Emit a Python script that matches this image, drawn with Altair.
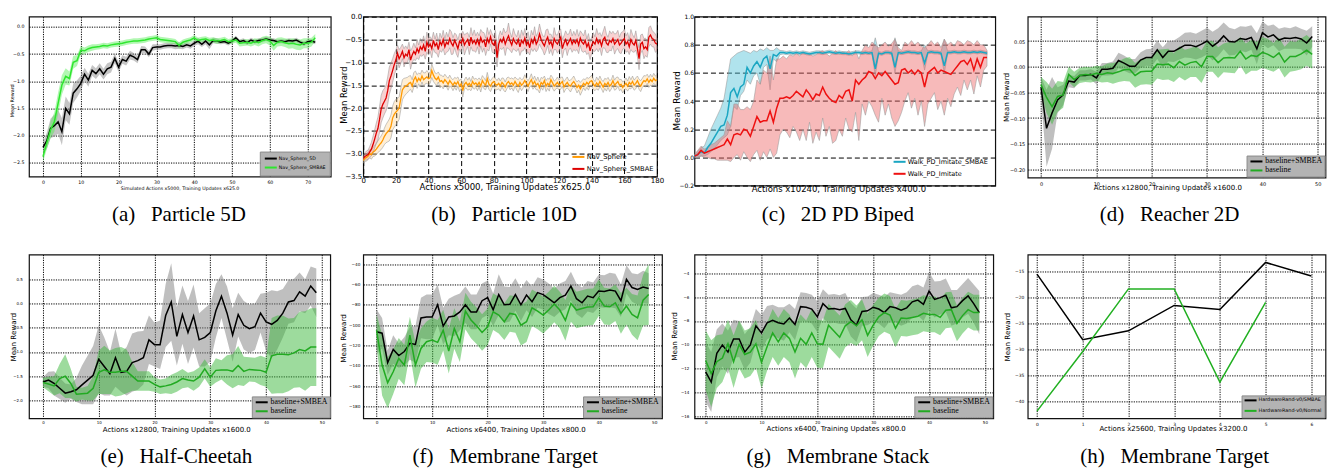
import altair as alt
import pandas as pd

SANS = "DejaVu Sans"
SERIF = "Liberation Serif"
DOT = [1.2, 1.2]
DASH = [5, 3]

# ---------------- (a) Particle 5D ----------------
A_X = list(range(73))
A_NAV5D = [-2.22,-2.10,-1.87,-1.82,-1.75,-1.93,-1.50,-1.60,-1.22,-1.14,
           -1.04,-0.87,-0.98,-0.80,-0.86,-0.77,-0.87,-0.77,-0.74,-0.58,
           -0.74,-0.60,-0.63,-0.52,-0.55,-0.60,-0.42,-0.42,-0.50,-0.38,
           -0.37,-0.37,-0.35,-0.34,-0.34,-0.35,-0.34,-0.36,-0.33,-0.35,
           -0.30,-0.26,-0.32,-0.26,-0.33,-0.25,-0.26,-0.28,-0.27,-0.30,
           -0.26,-0.20,-0.27,-0.25,-0.29,-0.24,-0.27,-0.25,-0.24,-0.22,
           -0.24,-0.25,-0.27,-0.26,-0.27,-0.25,-0.26,-0.24,-0.28,-0.31,
           -0.27,-0.26,-0.28]
A_NAV5D_SPREAD = [0.10,0.15,0.18,0.20,0.22,0.25,0.22,0.20,0.18,0.16,
                  0.14,0.12,0.12,0.10,0.10,0.10,0.10,0.10,0.10,0.09,
                  0.09,0.08,0.08,0.08,0.07,0.07,0.07,0.06,0.06,0.06,
                  0.05,0.05,0.05,0.05,0.05,0.06,0.06,0.05,0.05,0.05,
                  0.05,0.06,0.05,0.06,0.08,0.05,0.05,0.04,0.04,0.04,
                  0.04,0.04,0.04,0.04,0.04,0.04,0.04,0.04,0.04,0.04,
                  0.04,0.04,0.04,0.04,0.04,0.04,0.04,0.04,0.04,0.04,
                  0.04,0.04,0.04]
A_SMBAE = [-2.39,-2.14,-1.90,-1.75,-1.41,-1.07,-0.91,-0.95,-0.65,-0.62,
           -0.43,-0.44,-0.40,-0.38,-0.37,-0.36,-0.34,-0.35,-0.33,-0.32,
           -0.31,-0.30,-0.28,-0.27,-0.26,-0.26,-0.25,-0.24,-0.22,-0.21,
           -0.20,-0.23,-0.24,-0.25,-0.26,-0.27,-0.34,-0.28,-0.26,-0.24,
           -0.20,-0.25,-0.23,-0.22,-0.25,-0.24,-0.26,-0.25,-0.23,-0.27,
           -0.26,-0.24,-0.30,-0.29,-0.28,-0.30,-0.27,-0.29,-0.25,-0.23,
           -0.26,-0.34,-0.28,-0.27,-0.29,-0.31,-0.30,-0.32,-0.33,-0.30,
           -0.30,-0.28,-0.20]
A_SMBAE_SPREAD = [0.10,0.12,0.15,0.18,0.20,0.18,0.15,0.13,0.12,0.10,
                  0.08,0.06,0.06,0.06,0.05,0.05,0.05,0.05,0.05,0.05,
                  0.05,0.05,0.05,0.05,0.05,0.05,0.05,0.05,0.05,0.05,
                  0.05,0.05,0.05,0.05,0.05,0.05,0.06,0.05,0.05,0.05,
                  0.05,0.05,0.05,0.05,0.05,0.05,0.05,0.05,0.05,0.05,
                  0.05,0.05,0.06,0.06,0.06,0.06,0.06,0.07,0.07,0.07,
                  0.08,0.10,0.08,0.08,0.08,0.09,0.09,0.10,0.10,0.09,
                  0.09,0.08,0.07]
A_XTICKS = [0, 10, 20, 30, 40, 50, 60, 70]
A_YTICKS = [0.0, -0.5, -1.0, -1.5, -2.0, -2.5]

# ---------------- (b) Particle 10D ----------------
B_X = list(range(181))
B_SMBAE = [-3.10,-3.06,-3.04,-3.02,-2.96,-2.90,-2.80,-2.68,-2.55,-2.45,
           -2.25,-2.02,-1.92,-1.85,-1.78,-1.62,-1.40,-1.30,-1.18,-1.05,
           -0.95,-0.80,-0.92,-0.85,-0.76,-0.90,-0.82,-0.86,-0.72,-0.95,
           -0.84,-0.76,-0.82,-0.70,-0.78,-0.66,-0.72,-0.62,-0.76,-0.56,
           -0.66,-0.60,-0.70,-0.52,-0.64,-0.58,-0.72,-0.55,-0.62,-0.50,
           -0.66,-0.56,-0.60,-0.48,-0.58,-0.64,-0.52,-0.60,-0.70,-0.54,
           -0.58,-0.48,-0.62,-0.55,-0.50,-0.64,-0.45,-0.58,-0.52,-0.60,
           -0.50,-0.62,-0.46,-0.56,-0.52,-0.66,-0.48,-0.57,-0.44,-0.58,
           -0.62,-0.52,-0.90,-0.60,-0.50,-0.56,-0.46,-0.60,-0.50,-0.42,
           -0.54,-0.62,-0.48,-0.56,-0.60,-0.50,-0.66,-0.52,-0.58,-0.47,
           -0.62,-0.55,-0.68,-0.50,-0.58,-0.46,-0.60,-0.53,-0.38,-0.50,
           -0.58,-0.64,-0.52,-0.45,-0.60,-0.55,-0.66,-0.48,-0.56,-0.60,
           -0.52,-0.45,-0.70,-0.58,-0.50,-0.62,-0.55,-0.48,-0.60,-0.52,
           -0.58,-0.50,-0.62,-0.47,-0.56,-0.60,-0.52,-0.66,-0.58,-0.75,
           -0.62,-0.55,-0.60,-0.48,-0.58,-0.52,-0.64,-0.50,-0.45,-0.58,
           -0.62,-0.52,-0.56,-0.48,-0.60,-0.55,-0.50,-0.62,-0.58,-0.52,
           -0.48,-0.60,-0.55,-0.66,-0.50,-0.58,-0.62,-0.52,-0.70,-0.92,
           -0.60,-0.56,-0.70,-0.66,-0.72,-0.45,-0.40,-0.48,-0.50,-0.58,-0.60]
B_SMBAE_SPREAD = [0.06,0.08,0.10,0.10,0.12,0.15,0.18,0.20,0.22,0.25,
                  0.28,0.30,0.30,0.28,0.28,0.30,0.30,0.28,0.26,0.24,
                  0.22,0.18,0.20,0.18,0.16,0.20,0.18,0.16,0.16,0.20,
                  0.16,0.18,0.14,0.20,0.16,0.18,0.15,0.20,0.17,0.22,
                  0.18,0.16,0.20,0.18,0.15,0.22,0.17,0.19,0.16,0.20,
                  0.18,0.22,0.16,0.20,0.25,0.18,0.16,0.21,0.19,0.17,
                  0.20,0.16,0.22,0.18,0.15,0.19,0.21,0.17,0.23,0.18,
                  0.16,0.20,0.18,0.22,0.17,0.19,0.24,0.18,0.16,0.20,
                  0.18,0.22,0.20,0.17,0.19,0.16,0.21,0.25,0.18,0.28,
                  0.20,0.17,0.22,0.18,0.16,0.20,0.19,0.23,0.17,0.21,
                  0.18,0.22,0.16,0.20,0.18,0.24,0.17,0.19,0.22,0.18,
                  0.16,0.20,0.23,0.18,0.21,0.17,0.19,0.24,0.16,0.20,
                  0.22,0.18,0.20,0.16,0.19,0.23,0.17,0.21,0.18,0.20,
                  0.17,0.22,0.19,0.16,0.20,0.18,0.23,0.17,0.21,0.19,
                  0.18,0.20,0.16,0.22,0.19,0.17,0.21,0.18,0.24,0.20,
                  0.17,0.21,0.19,0.16,0.22,0.18,0.20,0.17,0.23,0.19,
                  0.21,0.18,0.20,0.17,0.22,0.19,0.16,0.21,0.18,0.24,
                  0.20,0.18,0.22,0.19,0.17,0.21,0.20,0.18,0.16,0.20,0.15]
B_NAV = [-3.15,-3.10,-3.08,-3.05,-3.00,-3.02,-2.96,-2.94,-2.90,-2.85,
         -2.80,-2.76,-2.70,-2.62,-2.56,-2.52,-2.48,-2.40,-2.22,-2.14,
         -2.09,-2.05,-2.00,-1.80,-1.60,-1.55,-1.52,-1.50,-1.46,-1.44,
         -1.52,-1.38,-1.32,-1.42,-1.35,-1.40,-1.30,-1.38,-1.35,-1.32,
         -1.36,-1.34,-1.18,-1.28,-1.35,-1.38,-1.32,-1.42,-1.40,-1.45,
         -1.38,-1.42,-1.48,-1.40,-1.45,-1.50,-1.44,-1.48,-1.42,-1.52,
         -1.47,-1.62,-1.48,-1.44,-1.50,-1.46,-1.52,-1.42,-1.48,-1.45,
         -1.50,-1.44,-1.52,-1.40,-1.46,-1.50,-1.36,-1.48,-1.52,-1.45,
         -1.42,-1.48,-1.50,-1.46,-1.52,-1.44,-1.48,-1.54,-1.46,-1.42,
         -1.48,-1.45,-1.50,-1.42,-1.48,-1.52,-1.44,-1.50,-1.46,-1.40,
         -1.46,-1.52,-1.44,-1.38,-1.48,-1.42,-1.50,-1.46,-1.55,-1.44,
         -1.48,-1.40,-1.52,-1.46,-1.50,-1.38,-1.45,-1.52,-1.48,-1.44,
         -1.50,-1.46,-1.42,-1.54,-1.48,-1.44,-1.50,-1.52,-1.46,-1.42,
         -1.48,-1.55,-1.50,-1.58,-1.52,-1.46,-1.50,-1.44,-1.48,-1.42,
         -1.40,-1.48,-1.52,-1.45,-1.50,-1.42,-1.48,-1.54,-1.46,-1.50,
         -1.44,-1.52,-1.48,-1.40,-1.50,-1.46,-1.42,-1.50,-1.48,-1.55,
         -1.50,-1.46,-1.52,-1.44,-1.48,-1.42,-1.50,-1.46,-1.40,-1.48,
         -1.52,-1.45,-1.40,-1.42,-1.36,-1.44,-1.38,-1.42,-1.35,-1.40,-1.38]
B_NAV_SPREAD = [0.06,0.07,0.08,0.08,0.09,0.10,0.10,0.11,0.12,0.13,
                0.14,0.15,0.16,0.18,0.20,0.22,0.24,0.25,0.26,0.28,
                0.28,0.26,0.25,0.24,0.22,0.20,0.18,0.17,0.16,0.15,
                0.14,0.16,0.13,0.15,0.12,0.14,0.13,0.15,0.12,0.14,
                0.13,0.12,0.15,0.14,0.12,0.13,0.11,0.14,0.12,0.13,
                0.12,0.11,0.13,0.12,0.10,0.12,0.11,0.13,0.10,0.12,
                0.11,0.14,0.10,0.12,0.11,0.13,0.10,0.12,0.11,0.10,
                0.12,0.10,0.13,0.11,0.12,0.10,0.14,0.11,0.12,0.10,
                0.11,0.13,0.10,0.12,0.11,0.10,0.13,0.11,0.12,0.10,
                0.12,0.11,0.13,0.10,0.12,0.14,0.11,0.12,0.10,0.13,
                0.11,0.12,0.10,0.13,0.11,0.12,0.10,0.14,0.12,0.11,
                0.13,0.10,0.12,0.11,0.13,0.10,0.12,0.11,0.10,0.12,
                0.11,0.13,0.10,0.12,0.11,0.12,0.10,0.13,0.11,0.12,
                0.10,0.12,0.11,0.14,0.12,0.10,0.12,0.11,0.13,0.10,
                0.12,0.11,0.10,0.13,0.11,0.12,0.10,0.12,0.11,0.13,
                0.11,0.12,0.10,0.12,0.11,0.13,0.10,0.12,0.11,0.12,
                0.10,0.12,0.11,0.13,0.10,0.12,0.11,0.12,0.10,0.11,
                0.12,0.10,0.11,0.12,0.10,0.11,0.12,0.10,0.11,0.10,0.11]
B_XTICKS = [0, 20, 40, 60, 80, 100, 120, 140, 160, 180]
B_YTICKS = [0.0, -0.5, -1.0, -1.5, -2.0, -2.5, -3.0, -3.5]

# ---------------- (c) 2D PD Biped ----------------
C_X = list(range(90))
C_SMBAE = [0.01,0.02,0.04,0.03,0.07,0.10,0.14,0.18,0.22,0.23,
           0.30,0.46,0.49,0.43,0.50,0.52,0.64,0.60,0.65,0.68,
           0.64,0.70,0.72,0.63,0.73,0.72,0.745,0.745,0.74,0.745,
           0.74,0.745,0.74,0.745,0.74,0.735,0.74,0.745,0.745,0.74,
           0.745,0.75,0.745,0.74,0.745,0.74,0.74,0.735,0.74,0.745,
           0.745,0.74,0.745,0.74,0.745,0.63,0.74,0.735,0.745,0.745,
           0.74,0.64,0.745,0.74,0.745,0.75,0.745,0.745,0.74,0.745,
           0.67,0.745,0.75,0.745,0.745,0.74,0.65,0.745,0.745,0.75,
           0.745,0.745,0.75,0.745,0.745,0.75,0.745,0.75,0.745,0.74]
C_SMBAE_LO = [0.00,0.00,0.01,0.01,0.02,0.04,0.06,0.09,0.12,0.14,
              0.16,0.22,0.36,0.34,0.44,0.47,0.55,0.52,0.58,0.60,
              0.52,0.64,0.66,0.48,0.70,0.68,0.73,0.735,0.73,0.735,
              0.73,0.735,0.73,0.735,0.73,0.725,0.73,0.735,0.735,0.73,
              0.735,0.74,0.735,0.73,0.735,0.73,0.73,0.725,0.73,0.735,
              0.735,0.73,0.735,0.73,0.735,0.58,0.73,0.725,0.735,0.735,
              0.73,0.60,0.735,0.73,0.735,0.74,0.735,0.735,0.73,0.735,
              0.62,0.735,0.74,0.735,0.735,0.73,0.60,0.735,0.735,0.74,
              0.735,0.735,0.74,0.735,0.735,0.74,0.735,0.74,0.735,0.73]
C_SMBAE_HI = [0.02,0.04,0.07,0.08,0.14,0.20,0.25,0.30,0.35,0.42,
              0.56,0.70,0.72,0.74,0.75,0.76,0.75,0.74,0.76,0.75,
              0.77,0.76,0.78,0.76,0.76,0.78,0.76,0.758,0.752,0.758,
              0.752,0.757,0.752,0.757,0.752,0.747,0.752,0.757,0.757,0.752,
              0.757,0.762,0.757,0.752,0.757,0.752,0.752,0.747,0.752,0.757,
              0.757,0.752,0.757,0.752,0.757,0.85,0.752,0.747,0.757,0.757,
              0.752,0.85,0.757,0.752,0.757,0.762,0.757,0.757,0.752,0.757,
              0.80,0.757,0.762,0.757,0.757,0.752,0.84,0.757,0.757,0.762,
              0.757,0.757,0.762,0.757,0.757,0.762,0.757,0.762,0.757,0.752]
C_IMIT = [0.01,0.02,0.05,0.03,0.04,0.05,0.06,0.07,0.08,0.09,
          0.13,0.09,0.16,0.17,0.16,0.20,0.19,0.15,0.22,0.29,
          0.25,0.26,0.26,0.33,0.25,0.35,0.42,0.42,0.43,0.42,
          0.44,0.47,0.45,0.43,0.48,0.45,0.41,0.45,0.44,0.50,
          0.45,0.42,0.40,0.39,0.44,0.42,0.47,0.48,0.40,0.55,
          0.52,0.55,0.57,0.61,0.60,0.56,0.60,0.58,0.61,0.58,
          0.55,0.52,0.53,0.62,0.63,0.60,0.62,0.59,0.62,0.60,
          0.50,0.60,0.62,0.64,0.60,0.62,0.61,0.60,0.59,0.62,
          0.65,0.68,0.69,0.66,0.70,0.62,0.70,0.64,0.71,0.71]
C_IMIT_LO = [0.00,0.00,0.01,0.00,0.00,-0.01,-0.01,-0.02,-0.02,-0.02,
             -0.02,-0.03,0.00,0.02,-0.02,0.04,0.00,-0.03,0.02,0.05,
             -0.02,0.04,0.00,0.06,0.00,0.03,0.16,0.20,0.18,0.14,
             0.22,0.18,0.12,0.20,0.12,0.25,0.10,0.18,0.12,0.28,
             0.15,0.22,0.10,0.12,0.20,0.15,0.28,0.20,0.18,0.32,
             0.12,0.38,0.30,0.40,0.36,0.30,0.25,0.42,0.30,0.38,
             0.28,0.22,0.26,0.32,0.40,0.46,0.35,0.42,0.30,0.40,
             0.22,0.38,0.42,0.46,0.34,0.40,0.30,0.42,0.36,0.45,
             0.50,0.44,0.55,0.48,0.55,0.45,0.58,0.50,0.62,0.65]
C_IMIT_HI = [0.02,0.05,0.08,0.06,0.07,0.09,0.10,0.12,0.14,0.16,
             0.26,0.22,0.38,0.38,0.34,0.34,0.36,0.34,0.40,0.55,
             0.52,0.62,0.60,0.72,0.55,0.70,0.70,0.72,0.70,0.73,
             0.72,0.74,0.72,0.75,0.73,0.74,0.72,0.73,0.75,0.76,
             0.74,0.72,0.74,0.76,0.73,0.75,0.74,0.76,0.72,0.76,
             0.70,0.76,0.80,0.78,0.82,0.80,0.78,0.80,0.82,0.79,
             0.81,0.84,0.78,0.76,0.82,0.80,0.83,0.80,0.82,0.79,
             0.78,0.80,0.83,0.80,0.82,0.78,0.84,0.80,0.82,0.79,
             0.83,0.82,0.80,0.83,0.82,0.80,0.83,0.80,0.80,0.76]
C_YTICKS = [1.0, 0.8, 0.6, 0.4, 0.2, 0.0, -0.2]

# ---------------- (d) Reacher 2D ----------------
D_X = list(range(50))
D_SMBEA = [-0.040,-0.120,-0.090,-0.065,-0.055,-0.028,-0.030,-0.017,-0.017,-0.015,
           -0.022,-0.005,-0.005,-0.003,0.012,0.007,0.001,0.001,0.013,0.018,
           0.018,0.033,0.018,0.030,0.030,0.036,0.042,0.042,0.039,0.044,
           0.050,0.040,0.048,0.060,0.049,0.048,0.055,0.053,0.057,0.035,
           0.066,0.058,0.062,0.052,0.056,0.055,0.057,0.054,0.046,0.059]
D_SMBEA_SPREAD = [0.020,0.075,0.070,0.025,0.020,0.012,0.012,0.010,0.010,0.010,
                  0.012,0.012,0.012,0.013,0.015,0.015,0.014,0.014,0.015,0.016,
                  0.017,0.018,0.020,0.020,0.021,0.022,0.024,0.025,0.025,0.026,
                  0.026,0.028,0.027,0.026,0.027,0.025,0.024,0.025,0.024,0.030,
                  0.022,0.022,0.020,0.022,0.021,0.020,0.022,0.020,0.024,0.020]
D_BASE = [-0.035,-0.060,-0.078,-0.058,-0.055,-0.015,-0.025,-0.017,-0.015,-0.016,
          -0.013,-0.015,-0.012,-0.013,-0.010,-0.006,-0.005,-0.017,-0.010,-0.009,
          -0.009,0.005,0.004,0.005,-0.002,0.010,0.003,0.008,0.010,0.000,
          0.020,0.020,0.008,0.017,0.018,0.017,0.030,0.015,0.022,0.020,
          0.028,0.024,0.018,0.027,0.009,0.020,0.020,0.025,0.032,0.024]
D_BASE_SPREAD = [0.015,0.030,0.035,0.030,0.025,0.015,0.015,0.015,0.015,0.015,
                 0.015,0.016,0.018,0.020,0.020,0.022,0.024,0.024,0.025,0.025,
                 0.026,0.028,0.030,0.030,0.028,0.030,0.030,0.028,0.030,0.032,
                 0.030,0.030,0.030,0.028,0.030,0.030,0.028,0.030,0.030,0.028,
                 0.030,0.030,0.028,0.030,0.030,0.030,0.028,0.030,0.030,0.028]
D_XTICKS = [0, 10, 20, 30, 40, 50]
D_YTICKS = [0.05, 0.0, -0.05, -0.10, -0.15, -0.20]

# ---------------- (e) Half-Cheetah ----------------
E_X = list(range(50))
E_SMBEA = [-1.62,-1.58,-1.65,-1.75,-1.85,-1.82,-1.78,-1.68,-1.58,-1.48,
           -1.15,-1.30,-1.45,-1.12,-1.42,-1.40,-1.22,-1.18,-1.12,-0.75,
           -0.85,-0.85,-0.25,0.03,-0.68,-0.23,-0.60,-0.26,-0.75,-0.70,
           -0.60,-0.15,0.15,-0.20,-0.65,-0.23,-0.45,-0.52,-0.48,-0.20,
           -0.38,-0.43,-0.35,-0.20,0.03,0.06,0.24,0.15,0.36,0.22]
E_SMBEA_SPREAD = [0.10,0.17,0.25,0.22,0.20,0.15,0.25,0.40,0.50,0.60,
                  0.70,0.60,0.45,0.60,0.40,0.50,0.60,0.60,0.55,0.50,
                  0.45,0.50,0.65,0.80,0.60,0.60,0.65,0.65,0.55,0.60,
                  0.60,0.55,0.45,0.55,0.55,0.45,0.50,0.50,0.48,0.40,
                  0.60,0.70,0.60,0.50,0.45,0.45,0.40,0.35,0.40,0.50]
E_BASE = [-1.63,-1.66,-1.70,-1.55,-1.50,-1.65,-1.87,-1.86,-1.85,-1.75,
          -1.42,-1.37,-1.42,-1.42,-1.40,-1.40,-1.50,-1.60,-1.60,-1.60,
          -1.67,-1.72,-1.70,-1.67,-1.62,-1.55,-1.58,-1.60,-1.52,-1.35,
          -1.52,-1.38,-1.37,-1.37,-1.40,-1.28,-1.40,-1.36,-1.37,-1.38,
          -1.42,-1.08,-1.05,-1.05,-1.06,-1.02,-0.95,-0.98,-0.90,-0.90]
E_BASE_SPREAD = [0.10,0.15,0.20,0.30,0.45,0.30,0.15,0.12,0.15,0.25,
                 0.45,0.50,0.45,0.50,0.50,0.45,0.30,0.20,0.20,0.20,
                 0.15,0.15,0.15,0.20,0.20,0.20,0.15,0.20,0.20,0.20,
                 0.20,0.25,0.20,0.30,0.35,0.40,0.30,0.25,0.25,0.30,
                 0.30,0.78,0.80,0.80,0.75,0.72,0.78,0.82,0.80,0.80]
E_YTICKS = [0.5, 0.0, -0.5, -1.0, -1.5, -2.0]

# ---------------- (f) Membrane Target ----------------
F_X = list(range(50))
F_SMBEA = [-106.6,-108,-137,-124,-130,-126,-118,-119,-93,-92,
           -92,-80,-101,-92,-91,-87,-80,-87,-87,-76,
           -73,-85,-70,-80,-79.5,-70,-80,-70.5,-77,-68,
           -70,-74,-78,-73,-70.5,-61.6,-74,-78,-71.5,-73,
           -66.5,-67,-65.5,-66.5,-76,-55,-63,-65,-62.5,-64]
F_SMBEA_SPREAD = [22,15,12,14,12,14,16,18,20,22,
                  22,20,18,18,20,18,18,17,17,17,
                  17,16,20,18,17,16,16,15,15,15,
                  15,15,14,14,14,14,15,15,15,15,
                  16,16,17,17,16,14,14,15,16,15]
F_BASE = [-104.9,-139.3,-156.7,-145.9,-132.8,-139.3,-109.8,-139.3,-123.0,-116.4,
          -114.8,-117.0,-105.0,-125.6,-103.3,-116.4,-86.2,-95.0,-100.7,-107.2,
          -101.6,-86.9,-90.2,-96.7,-88.5,-89.5,-100.0,-96.7,-83.0,-86.2,
          -90.2,-85.2,-79.3,-85.2,-95.4,-78.7,-85.2,-83.6,-82.3,-82.0,
          -73.1,-81.3,-82.0,-78.0,-88.5,-81.3,-89.5,-92.8,-75.4,-69.8]
F_BASE_SPREAD = [15,30,25,22,20,20,18,22,20,20,
                 22,22,20,22,20,20,18,18,18,18,
                 18,18,18,18,18,18,20,20,18,18,
                 18,18,18,18,20,18,18,18,18,18,
                 18,18,18,18,20,18,20,22,25,30]
F_YTICKS = [-40, -60, -80, -100, -120, -140, -160, -180]

# ---------------- (g) Membrane Stack ----------------
G_X = list(range(50))
G_SMBEA = [-12.25,-13.1,-10.7,-10.0,-10.6,-9.5,-9.5,-10.6,-10.0,-8.4,
           -9.0,-8.15,-7.95,-8.15,-8.25,-7.75,-8.3,-6.8,-6.85,-7.0,
           -7.65,-6.55,-7.0,-6.95,-7.05,-6.95,-7.9,-8.35,-7.2,-7.15,
           -6.85,-7.0,-7.3,-6.8,-6.9,-7.1,-6.9,-6.4,-6.25,-6.6,
           -5.5,-6.2,-6.05,-5.85,-6.9,-6.8,-6.3,-5.9,-6.55,-7.3]
G_SMBEA_SPREAD = [2.5,2.5,2.0,1.8,1.8,1.6,1.5,1.5,1.5,1.4,
                  1.5,1.4,1.3,1.3,1.4,1.2,1.3,1.2,1.2,1.2,
                  1.3,1.2,1.2,1.2,1.2,1.3,1.4,1.4,1.2,1.2,
                  1.2,1.2,1.3,1.2,1.2,1.3,1.3,1.3,1.3,1.4,
                  1.6,1.5,1.4,1.4,1.5,1.4,1.4,1.5,1.6,1.8]
G_BASE = [-11.3,-12.4,-11.4,-11.1,-9.9,-11.4,-9.95,-10.8,-10.6,-9.9,
          -11.45,-10.15,-9.0,-9.75,-9.0,-9.45,-10.6,-9.45,-9.95,-9.0,
          -9.9,-9.95,-8.35,-8.85,-9.35,-8.4,-8.05,-8.4,-7.9,-9.2,
          -8.35,-7.65,-7.3,-7.5,-8.6,-7.75,-7.8,-7.7,-7.6,-7.35,
          -7.45,-7.45,-7.7,-7.1,-7.05,-8.2,-7.55,-7.05,-7.3,-7.3]
G_BASE_SPREAD = [2.5,2.8,2.2,2.0,2.0,2.2,2.0,2.0,2.0,2.0,
                 2.2,2.0,2.0,2.0,2.0,2.0,2.2,2.0,2.0,2.0,
                 2.0,2.0,1.8,1.8,1.8,1.8,1.8,1.7,1.7,1.8,
                 1.7,1.6,1.6,1.6,1.6,1.5,1.5,1.5,1.5,1.5,
                 1.5,1.5,1.5,1.5,1.5,1.5,1.5,1.5,1.5,1.5]
G_YTICKS = [-4, -6, -8, -10, -12, -14, -16]

# ---------------- (h) Membrane Target (hardware) ----------------
H_X_SMBAE = [0, 1, 2, 3, 4, 5, 6]
H_SMBAE = [-15.45, -28.1, -26.4, -21.5, -22.3, -13.2, -15.8]
H_X_NORMAL = [0, 1, 2, 3, 4, 5]
H_NORMAL = [-41.9, -30.4, -18.3, -18.3, -36.3, -20.9]
H_XTICKS = [0, 1, 2, 3, 4, 5, 6]
H_YTICKS = [-15, -20, -25, -30, -35, -40]

GAP = "\u00a0\u00a0\u00a0"
CAPTIONS = ["(a)" + GAP + "Particle 5D", "(b)" + GAP + "Particle 10D", "(c)" + GAP + "2D PD Biped",
            "(d)" + GAP + "Reacher 2D", "(e)" + GAP + "Half-Cheetah", "(f)" + GAP + "Membrane Target",
            "(g)" + GAP + "Membrane Stack", "(h)" + GAP + "Membrane Target"]


def S(name, x, y, color, band=None, spread=None, lo=None, hi=None):
    return dict(name=name, x=x, y=y, color=color, band=band, spread=spread, lo=lo, hi=hi)


GRAY_BAND = "#7f7f7f"
GREEN = "#22aa22"
GREEN_BAND = "#3cb83c"
SERIF_LEG = dict(font=SERIF, fs=7.8, fill="#b3b3b3", stroke="#8c8c8c", pad=2, row=0, off=1)

PANELS = [
    dict(w=302, h=160, xdom=[-3.7, 76.1], ydom=[-2.757, 0.19], xticks=A_XTICKS, yticks=A_YTICKS,
         xfmt="d", yfmt=".1f", dash=DOT, xgrid=True, xlabels=True, lfs=4.7, xlp=3, ylp=5,
         xt="Simulated Actions x5000, Training Updates x625.0", yt="Mean Reward", xtfs=4.7, ytfs=4.9,
         xtx=150.7, xty=12.4, ytx=-16.5, yty=83.7, bop=0.45, bstroke=None, lw=1.5,
         series=[S("Nav_Sphere_5D", A_X, A_NAV5D, "#000000", GRAY_BAND, spread=A_NAV5D_SPREAD),
                 S("Nav_Sphere_SMBAE", A_X, A_SMBAE, "#2ee62e", "#55ee55", spread=A_SMBAE_SPREAD)],
         leg=dict(font=SANS, fs=4.7, fill="#b3b3b3", stroke="#8c8c8c", pad=4, row=1, off=1),
         capx=150, capy=198),
    dict(w=294, h=160, xdom=[0, 180], ydom=[-3.5, 0.0], xticks=B_XTICKS, yticks=B_YTICKS,
         xfmt="d", yfmt=".1f", dash=DASH, xgrid=True, xlabels=True, lfs=7, xlp=0, ylp=1.6,
         xt="Actions x5000, Training Updates x625.0", yt="Mean Reward", xtfs=8.6, ytfs=8.5,
         xtx=141.4, xty=10.4, ytx=-19.3, yty=78, bop=0.3, bstroke="#9a9a9a", lw=1.3,
         series=[S("Nav_Sphere", B_X, B_NAV, "#ff9900", "#ffc870", spread=B_NAV_SPREAD),
                 S("Nav_Sphere_SMBAE", B_X, B_SMBAE, "#dd0000", "#e86a6a", spread=B_SMBAE_SPREAD)],
         leg=dict(font=SANS, fs=6.7, fill=None, stroke=None, pad=0, row=3, off=3),
         capx=141, capy=198),
    dict(w=301, h=169, xdom=[0, 91.5], ydom=[-0.2, 1.0], xticks=[0], yticks=C_YTICKS,
         xfmt="d", yfmt=".1f", dash=DASH, xgrid=False, xlabels=False, lfs=6, xlp=0, ylp=1,
         xt="Actions x10240, Training Updates x400.0", yt="Mean Reward", xtfs=8.5, ytfs=8.8,
         xtx=144, xty=3.3, ytx=-18.3, yty=83.7, bop=0.45, bstroke="#9a9a9a", lw=1.5,
         series=[S("Walk_PD_Imitate_SMBAE", C_X, C_SMBAE, "#1ba6c2", "#4fc0d8", lo=C_SMBAE_LO, hi=C_SMBAE_HI),
                 S("Walk_PD_Imitate", C_X, C_IMIT, "#ee1111", "#ee6666", lo=C_IMIT_LO, hi=C_IMIT_HI)],
         leg=dict(font=SANS, fs=6.5, fill=None, stroke=None, pad=0, row=3, off=7),
         capx=143.5, capy=198),
    dict(w=298, h=161, xdom=[-2.4, 51.4], ydom=[-0.216, 0.0975], xticks=D_XTICKS, yticks=D_YTICKS,
         xfmt="d", yfmt=".2f", dash=DOT, xgrid=True, xlabels=True, lfs=5, xlp=3.5, ylp=3,
         xt="Actions x12800, Training Updates x1600.0", yt="Mean Reward", xtfs=7, ytfs=7.3,
         xtx=139.7, xty=10, ytx=-21, yty=80.3, bop=0.5, bstroke=None, lw=1.5,
         series=[S("baseline+SMBEA", D_X, D_SMBEA, "#000000", GRAY_BAND, spread=D_SMBEA_SPREAD),
                 S("baseline", D_X, D_BASE, GREEN, GREEN_BAND, spread=D_BASE_SPREAD)],
         leg=SERIF_LEG, capx=142, capy=198),
    dict(w=301.5, h=164, xdom=[-2.5, 51.5], ydom=[-2.37, 1.01], xticks=D_XTICKS, yticks=E_YTICKS,
         xfmt="d", yfmt=".1f", dash=DOT, xgrid=True, xlabels=True, lfs=4, xlp=2.5, ylp=6.6,
         xt="Actions x12800, Training Updates x1600.0", yt="Mean Reward", xtfs=7, ytfs=7.2,
         xtx=147.4, xty=10.7, ytx=-15.5, yty=82.3, bop=0.5, bstroke=None, lw=1.5,
         series=[S("baseline+SMBEA", E_X, E_SMBEA, "#000000", GRAY_BAND, spread=E_SMBEA_SPREAD),
                 S("baseline", E_X, E_BASE, GREEN, GREEN_BAND, spread=E_BASE_SPREAD)],
         leg=SERIF_LEG, capx=147.5, capy=203),
    dict(w=299, h=164, xdom=[-2.4, 51.4], ydom=[-191.8, -30.5], xticks=D_XTICKS, yticks=F_YTICKS,
         xfmt="d", yfmt="d", dash=DOT, xgrid=True, xlabels=True, lfs=4.2, xlp=2, ylp=3.3,
         xt="Actions x6400, Training Updates x800.0", yt="Mean Reward", xtfs=7, ytfs=7.2,
         xtx=152.5, xty=11, ytx=-20, yty=83.5, bop=0.5, bstroke=None, lw=1.5,
         series=[S("baseline+SMBEA", F_X, F_SMBEA, "#000000", GRAY_BAND, spread=F_SMBEA_SPREAD),
                 S("baseline", F_X, F_BASE, GREEN, GREEN_BAND, spread=F_BASE_SPREAD)],
         leg=SERIF_LEG, capx=142, capy=203),
    dict(w=299, h=164, xdom=[-2.0, 51.5], ydom=[-16.14, -2.44], xticks=D_XTICKS, yticks=G_YTICKS,
         xfmt="d", yfmt="d", dash=DOT, xgrid=True, xlabels=True, lfs=4, xlp=2, ylp=5.6,
         xt="Actions x6400, Training Updates x800.0", yt="Mean Reward", xtfs=7, ytfs=7.2,
         xtx=141.3, xty=10, ytx=-19.5, yty=81.5, bop=0.5, bstroke=None, lw=1.5,
         series=[S("baseline+SMBEA", G_X, G_SMBEA, "#000000", GRAY_BAND, spread=G_SMBEA_SPREAD),
                 S("baseline", G_X, G_BASE, GREEN, GREEN_BAND, spread=G_BASE_SPREAD)],
         leg=SERIF_LEG, capx=143.5, capy=203),
    dict(w=298, h=164, xdom=[-0.203, 6.31], ydom=[-43.3, -11.66], xticks=H_XTICKS, yticks=H_YTICKS,
         xfmt="d", yfmt="d", dash=DOT, xgrid=True, xlabels=True, lfs=4.4, xlp=4, ylp=4,
         xt="Actions x25600, Training Updates x3200.0", yt="Mean Reward", xtfs=7, ytfs=7.2,
         xtx=145.3, xty=10.3, ytx=-20.7, yty=82.3, bop=0.5, bstroke=None, lw=1.5,
         series=[S("HardwareRand-v0/SMBAE", H_X_SMBAE, H_SMBAE, "#000000"),
                 S("HardwareRand-v0/Normal", H_X_NORMAL, H_NORMAL, "#22b022")],
         leg=dict(font=SANS, fs=4.9, fill="#b3b3b3", stroke="#8c8c8c", pad=2, row=2.5, off=1),
         capx=147, capy=203),
]


def make_panel(k, p, caption):
    xs = alt.Scale(domain=p["xdom"], nice=False, zero=False)
    ys = alt.Scale(domain=p["ydom"], nice=False, zero=False)
    common = dict(domain=False, ticks=False, gridColor="#000000", gridOpacity=1.0, gridWidth=1.0,
                  gridDash=p["dash"], labelFont=SANS, labelColor="#000000", labelFontSize=p["lfs"],
                  labelFlush=False, labelOverlap=False, titleFont=SANS, titleColor="#000000",
                  titleFontWeight="normal", titleBaseline="middle", titleAlign="center")
    xa = alt.Axis(values=p["xticks"], format=p["xfmt"], labels=p["xlabels"], grid=p["xgrid"],
                  labelPadding=p["xlp"], title=p["xt"], titleFontSize=p["xtfs"],
                  titleX=p["xtx"], titleY=p["xty"], **common)
    ya = alt.Axis(values=p["yticks"], format=p["yfmt"], grid=True, labelPadding=p["ylp"],
                  title=p["yt"], titleFontSize=p["ytfs"], titleX=p["ytx"], titleY=p["yty"],
                  titleAngle=270, **common)
    sfield = "series%d" % k
    layers = []
    for s in p["series"]:
        if s["band"] is None:
            continue
        if s["spread"] is not None:
            lo = [v - d for v, d in zip(s["y"], s["spread"])]
            hi = [v + d for v, d in zip(s["y"], s["spread"])]
        else:
            lo, hi = s["lo"], s["hi"]
        n = min(len(s["x"]), len(lo), len(hi))
        bdf = pd.DataFrame({"x": s["x"][:n], "lo": lo[:n], "hi": hi[:n]})
        mk = dict(fill=s["band"], fillOpacity=p["bop"], clip=True)
        if p["bstroke"]:
            mk.update(stroke=p["bstroke"], strokeWidth=0.7, strokeOpacity=0.8)
        layers.append(alt.Chart(bdf).mark_area(**mk).encode(
            x=alt.X("x:Q", scale=xs, axis=xa),
            y=alt.Y("lo:Q", scale=ys, axis=ya),
            y2="hi:Q"))
    rows = []
    for s in p["series"]:
        for x, y in zip(s["x"], s["y"]):
            rows.append({"x": x, "y": y, sfield: s["name"]})
    ldf = pd.DataFrame(rows)
    names = [s["name"] for s in p["series"]]
    colors = [s["color"] for s in p["series"]]
    lg = p["leg"]
    legkw = dict(title=None, orient="bottom-right", offset=lg["off"], padding=lg["pad"],
                 labelFont=lg["font"], labelFontSize=lg["fs"], labelColor="#000000",
                 symbolType="M-1,0H5", symbolSize=16, symbolStrokeWidth=2, symbolOpacity=1,
                 symbolFillColor="transparent", labelOffset=9, rowPadding=lg["row"], labelLimit=400)
    if lg["fill"]:
        legkw.update(fillColor=lg["fill"], strokeColor=lg["stroke"], cornerRadius=0)
    lines = alt.Chart(ldf).mark_line(strokeWidth=p["lw"], clip=True).encode(
        x=alt.X("x:Q", scale=xs, axis=xa),
        y=alt.Y("y:Q", scale=ys, axis=ya),
        stroke=alt.Stroke(sfield + ":N", scale=alt.Scale(domain=names, range=colors),
                          legend=alt.Legend(**legkw)))
    layers.append(lines)
    cap = alt.Chart(pd.DataFrame({"t": [caption]})).mark_text(
        font=SERIF, fontSize=21, color="#000000", align="center", baseline="middle").encode(
        text="t:N", x=alt.value(p["capx"]), y=alt.value(p["capy"]))
    layers.append(cap)
    return alt.layer(*layers).properties(width=p["w"], height=p["h"])


charts = [make_panel(k, p, c) for k, (p, c) in enumerate(zip(PANELS, CAPTIONS))]

chart = alt.concat(*charts, columns=4, spacing={"row": 69, "column": 32.5},
                   bounds="flush", align="each").resolve_scale(
    stroke="independent").resolve_legend(stroke="independent").properties(
    padding={"left": 0, "top": 3.5, "right": 0, "bottom": 0},
    background="white").configure_view(stroke="#111111", strokeWidth=1.2)

chart.save("out.html", embed_options={"renderer": "svg", "actions": False})
